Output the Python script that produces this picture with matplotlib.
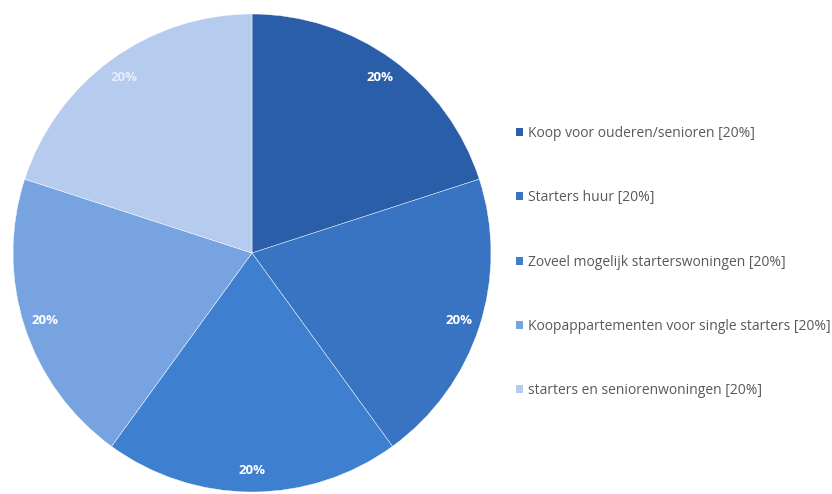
import matplotlib.pyplot as plt
from matplotlib.patches import Patch

labels = ["Koop voor ouderen/senioren",
          "Starters huur",
          "Zoveel mogelijk starterswoningen",
          "Koopappartementen voor single starters",
          "starters en seniorenwoningen"]
shares = [20, 20, 20, 20, 20]
colors = ["#2b5ea9", "#3874c1", "#3e80cf", "#77a4e1", "#b5ccef"]

fig = plt.figure(figsize=(8.32, 4.94), dpi=100)
ax = fig.add_axes([13/832, 2/494, 478/832, 478/494])

wedges, texts, autotexts = ax.pie(
    shares, colors=colors, startangle=90, counterclock=False,
    autopct="%d%%", pctdistance=0.91,
    wedgeprops=dict(edgecolor="white", linewidth=0.3),
    textprops=dict(color="white", fontsize=9.5, fontweight="bold",
                   family="Open Sans"))
autotexts[-1].set_color("#e6eefb")
ax.set_xlim(-1, 1)
ax.set_ylim(-1, 1)
ax.set_aspect("equal")

handles = [Patch(facecolor=c, edgecolor="none") for c in colors]
leg_labels = [f"{l} [{s}%]" for l, s in zip(labels, shares)]
fig.legend(handles, leg_labels, loc="upper left",
           bbox_to_anchor=(516/832, 1 - 126/494), frameon=False,
           handlelength=0.5, handleheight=0.5, handletextpad=0.35,
           labelspacing=3.55, borderaxespad=0, borderpad=0,
           prop=dict(family="Open Sans", size=10), labelcolor="#595959")

fig.savefig("out.png", dpi=100)
